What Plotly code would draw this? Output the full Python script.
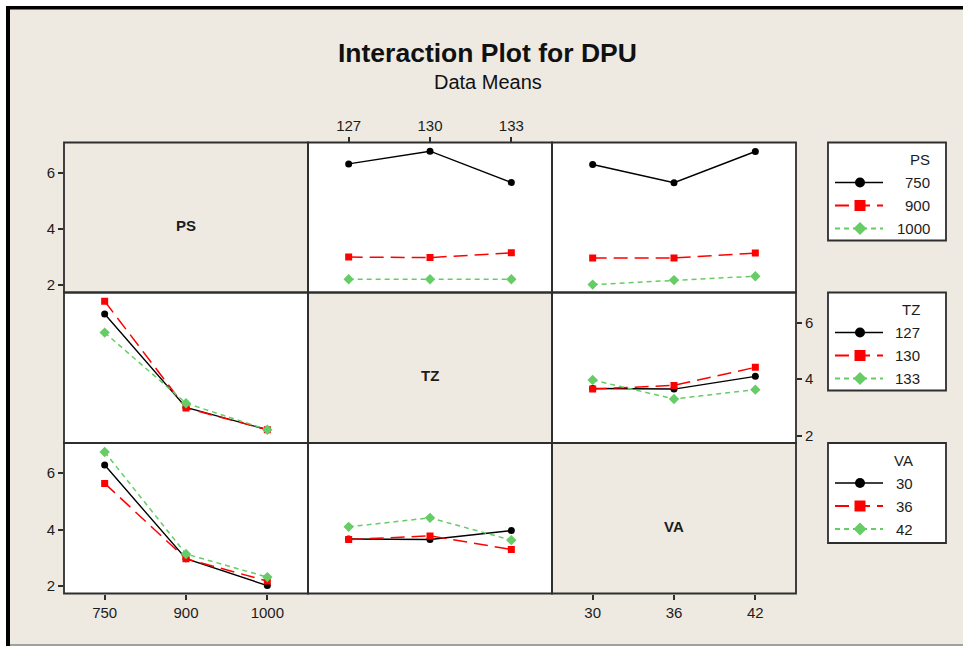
import plotly.graph_objects as go

# ---------------------------------------------------------------- data
FACTORS = ["PS", "TZ", "VA"]
PS_LEVELS = ["750", "900", "1000"]
TZ_LEVELS = ["127", "130", "133"]
VA_LEVELS = ["30", "36", "42"]

# mean DPU for each pair of factor levels (rows: first factor, cols: second factor)
PS_TZ_MEANS = [
    [6.31, 6.76, 5.65],   # PS 750
    [3.00, 2.98, 3.15],   # PS 900
    [2.21, 2.21, 2.21],   # PS 1000
]
PS_VA_MEANS = [
    [6.29, 5.64, 6.75],
    [2.97, 2.97, 3.14],
    [2.02, 2.18, 2.32],
]
TZ_VA_MEANS = [
    [3.67, 3.65, 4.10],   # TZ 127
    [3.65, 3.78, 4.42],   # TZ 130
    [3.97, 3.30, 3.63],   # TZ 133
]

Y_TICKS = [2, 4, 6]
Y_RANGE = [1.74, 7.07]

# ---------------------------------------------------------------- styling
W, H = 963, 646
BG = "#EEEAE1"
FRAME = "#2e2e2e"
FONT = "Liberation Sans, Arial, sans-serif"
TXT = "#1c1c1c"

STYLES = [
    dict(color="#000000", dash="solid", symbol="circle", size=7, lsize=10, width=1.4),
    dict(color="#FF0000", dash="14px,7px", symbol="square", size=7, lsize=11, width=1.5),
    dict(color="#66CC66", dash="5px,4px", symbol="diamond", size=8, lsize=10, width=1.5),
]

COL_EDGES = [64, 308, 552, 796]
ROW_EDGES = [142.5, 292.5, 443, 593.5]

LEVELS = [PS_LEVELS, TZ_LEVELS, VA_LEVELS]
PAIR_MEANS = {(0, 1): PS_TZ_MEANS, (0, 2): PS_VA_MEANS, (1, 2): TZ_VA_MEANS}


def px(x):
    return x / W


def py(y):
    return 1 - y / H


def label(text, x, y, size=15, xanchor="center", color=TXT):
    return dict(text=text, xref="paper", yref="paper", x=px(x), y=py(y),
                xanchor=xanchor, yanchor="middle", showarrow=False,
                font=dict(family=FONT, size=size, color=color))


def means_for(r, c):
    """Lines are levels of factor r, x positions are levels of factor c."""
    if r < c:
        return PAIR_MEANS[(r, c)]
    t = PAIR_MEANS[(c, r)]
    return [[t[j][i] for j in range(3)] for i in range(3)]


fig = go.Figure()
layout = dict(
    width=W, height=H,
    margin=dict(l=0, r=0, t=0, b=0),
    paper_bgcolor=BG,
    plot_bgcolor="rgba(0,0,0,0)",
    showlegend=False,
    shapes=[], annotations=[],
)

tick_font = dict(family=FONT, size=15, color=TXT)

for r in range(3):
    for c in range(3):
        k = r * 3 + c + 1
        xa = "x" if k == 1 else f"x{k}"
        ya = "y" if k == 1 else f"y{k}"
        xkey = "xaxis" if k == 1 else f"xaxis{k}"
        ykey = "yaxis" if k == 1 else f"yaxis{k}"

        # tick placement: factor levels on outer edges, DPU scale on left/right
        show_x = (c == 0 and r == 2) or (c == 1 and r == 0) or (c == 2 and r == 2)
        x_side = "top" if c == 1 else "bottom"
        show_y = (c == 0 and r in (0, 2)) or (c == 2 and r == 1)
        y_side = "right" if c == 2 else "left"

        layout[xkey] = dict(
            domain=[px(COL_EDGES[c]), px(COL_EDGES[c + 1])],
            anchor=ya, range=[0.5, 3.5], side=x_side,
            tickvals=[1, 2, 3], ticktext=LEVELS[c],
            showticklabels=show_x, ticks="outside" if show_x else "",
            ticklen=5, tickwidth=1.5, tickcolor=FRAME, tickfont=tick_font,
            showgrid=False, zeroline=False, showline=False, fixedrange=True,
        )
        layout[ykey] = dict(
            domain=[py(ROW_EDGES[r + 1]), py(ROW_EDGES[r])],
            anchor=xa, range=Y_RANGE, side=y_side,
            tickvals=Y_TICKS,
            showticklabels=show_y, ticks="outside" if show_y else "",
            ticklen=5, tickwidth=1.5, tickcolor=FRAME, tickfont=tick_font,
            showgrid=False, zeroline=False, showline=False, fixedrange=True,
        )

        # cell background
        layout["shapes"].append(dict(
            type="rect", xref="paper", yref="paper", layer="below",
            x0=px(COL_EDGES[c]), x1=px(COL_EDGES[c + 1]),
            y0=py(ROW_EDGES[r + 1]), y1=py(ROW_EDGES[r]),
            fillcolor=BG if r == c else "white", line=dict(width=0),
        ))

        if r == c:
            fig.add_trace(go.Scatter(x=[None], y=[None], xaxis=xa, yaxis=ya,
                                     hoverinfo="skip"))
            layout["annotations"].append(label(
                f"<b>{FACTORS[r]}</b>",
                (COL_EDGES[c] + COL_EDGES[c + 1]) / 2,
                (ROW_EDGES[r] + ROW_EDGES[r + 1]) / 2 + 8,
            ))
            continue

        table = means_for(r, c)
        for i, row in enumerate(table):
            s = STYLES[i]
            fig.add_trace(go.Scatter(
                x=[1, 2, 3], y=row, xaxis=xa, yaxis=ya, mode="lines+markers",
                line=dict(color=s["color"], dash=s["dash"], width=s["width"]),
                marker=dict(color=s["color"], symbol=s["symbol"], size=s["size"]),
                name=f"{FACTORS[r]} = {LEVELS[r][i]}",
            ))

# cell frames drawn on top of the data
for r in range(3):
    for c in range(3):
        layout["shapes"].append(dict(
            type="rect", xref="paper", yref="paper", layer="above",
            x0=px(COL_EDGES[c]), x1=px(COL_EDGES[c + 1]),
            y0=py(ROW_EDGES[r + 1]), y1=py(ROW_EDGES[r]),
            line=dict(color=FRAME, width=1.8),
        ))

# ---------------------------------------------------------------- legends
# full-figure pixel axes used for the legend key samples
layout["xaxis10"] = dict(domain=[0, 1], range=[0, W], visible=False,
                         anchor="y10", fixedrange=True)
layout["yaxis10"] = dict(domain=[0, 1], range=[H, 0], visible=False,
                         anchor="x10", fixedrange=True)

LEG_X0, LEG_X1 = 828, 946
LEG_TOPS = [142.5, 292.5, 443]
LEG_BOTTOMS = [240.5, 390.5, 543]
LEG_TEXT_RIGHT = [932, 922, 915]
KEY_X0, KEY_XM, KEY_X1 = 835, 860, 883

for f in range(3):
    top = LEG_TOPS[f]
    layout["shapes"].append(dict(
        type="rect", xref="paper", yref="paper", layer="below",
        x0=px(LEG_X0), x1=px(LEG_X1), y0=py(LEG_BOTTOMS[f]), y1=py(top),
        fillcolor="white", line=dict(color=FRAME, width=1.8),
    ))
    layout["annotations"].append(label(FACTORS[f], LEG_TEXT_RIGHT[f], top + 17,
                                       xanchor="right"))
    for i, lvl in enumerate(LEVELS[f]):
        s = STYLES[i]
        yy = top + 40 + 23 * i
        fig.add_trace(go.Scatter(
            x=[KEY_X0, KEY_X1], y=[yy, yy], xaxis="x10", yaxis="y10",
            mode="lines", hoverinfo="skip",
            line=dict(color=s["color"], dash=s["dash"], width=s["width"] + 0.3),
        ))
        fig.add_trace(go.Scatter(
            x=[KEY_XM], y=[yy], xaxis="x10", yaxis="y10",
            mode="markers", hoverinfo="skip",
            marker=dict(color=s["color"], symbol=s["symbol"], size=s["lsize"]),
        ))
        layout["annotations"].append(label(lvl, LEG_TEXT_RIGHT[f], yy,
                                           xanchor="right"))

# ---------------------------------------------------------------- titles
layout["annotations"].append(label("<b>Interaction Plot for DPU</b>", 487, 53,
                                   size=26.5, color="#111111"))
layout["annotations"].append(label("Data Means", 488, 82, size=20, color="#111111"))

# ---------------------------------------------------------------- window frame
layout["shapes"] += [
    dict(type="rect", xref="paper", yref="paper", layer="above",
         x0=0, x1=1, y0=py(6), y1=1, fillcolor="white", line=dict(width=0)),
    dict(type="rect", xref="paper", yref="paper", layer="above",
         x0=0, x1=px(6), y0=0, y1=1, fillcolor="white", line=dict(width=0)),
    dict(type="rect", xref="paper", yref="paper", layer="above",
         x0=px(6), x1=1, y0=py(9.5), y1=py(6), fillcolor="black", line=dict(width=0)),
    dict(type="rect", xref="paper", yref="paper", layer="above",
         x0=px(6), x1=px(10), y0=0, y1=py(6), fillcolor="black", line=dict(width=0)),
    dict(type="rect", xref="paper", yref="paper", layer="above",
         x0=px(10), x1=1, y0=0, y1=py(644), fillcolor="#A0A0A0", line=dict(width=0)),
]

fig.update_layout(**layout)
fig.write_html("out.html", config=dict(displayModeBar=False))
